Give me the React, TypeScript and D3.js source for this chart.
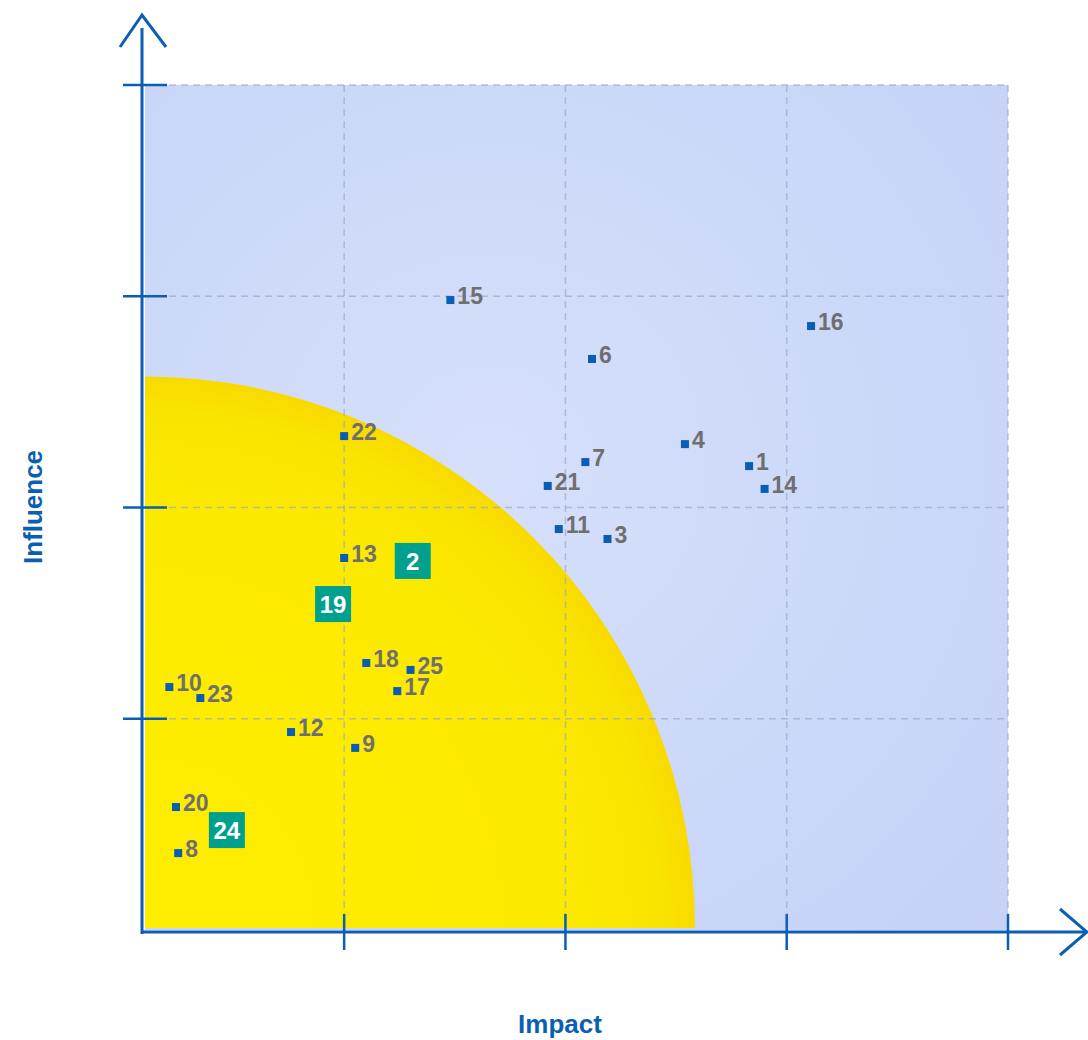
import React from "react";
import * as d3 from "d3";

const ids = [1, 2, 3, 4, 6, 7, 8, 9, 10, 11, 12, 13, 14, 15, 16, 17, 18, 19, 20, 21, 22, 23, 24, 25];
const impact = [2.83, 1.31, 2.19, 2.54, 2.12, 2.09, 0.25, 1.05, 0.21, 1.97, 0.76, 1.0, 2.9, 1.48, 3.11, 1.24, 1.1, 0.95, 0.24, 1.92, 1.0, 0.35, 0.47, 1.3];
const influence = [2.196, 1.747, 1.851, 2.3, 2.703, 2.215, 0.364, 0.862, 1.15, 1.898, 0.937, 1.761, 2.088, 2.982, 2.859, 1.131, 1.264, 1.543, 0.582, 2.102, 2.338, 1.098, 0.473, 1.231];
const highlighted = [2, 19, 24];
const xTicks = [1, 2, 3, 4];
const yTicks = [1, 2, 3, 4];
const zoneImpact = 2.585;
const zoneInfluence = 2.62;

const W = 1088;
const H = 1040;
const BLUE = "#0b5fb3";

export default function App() {
  const x = d3.scaleLinear().domain([0.1, 4]).range([145, 1008]);
  const y = d3.scaleLinear().domain([0, 4]).range([930, 85]);

  const x0 = x(0.1);
  const y0 = y(0.01);
  const rx = x(zoneImpact) - x0;
  const ry = y0 - y(zoneInfluence);
  const zonePath = `M${x0},${y0} L${x0},${y0 - ry} A${rx},${ry} 0 0 1 ${x0 + rx},${y0} Z`;

  const axisX = 142;
  const axisY = 932;

  const points = ids.map((id, i) => ({ id, px: x(impact[i]), py: y(influence[i]), hl: highlighted.includes(id) }));

  return (
    <svg width={W} height={H} style={{ position: "absolute", left: 0, top: 0, background: "#fff" }} fontFamily="'Liberation Sans', Arial, sans-serif">
      <defs>
        <radialGradient id="bg" cx="0.4" cy="0.45" r="0.75">
          <stop offset="0%" stopColor="#d6e0fb" />
          <stop offset="100%" stopColor="#c6d3f7" />
        </radialGradient>
        <radialGradient id="yel" cx={x0} cy={y0} r={rx} gradientUnits="userSpaceOnUse" gradientTransform={`translate(${x0},${y0}) scale(1,${ry / rx}) translate(${-x0},${-y0})`}>
          <stop offset="0%" stopColor="#ffee00" />
          <stop offset="80%" stopColor="#fce900" />
          <stop offset="94%" stopColor="#f9e300" />
          <stop offset="100%" stopColor="#f9da00" />
        </radialGradient>
      </defs>

      <rect x={x(0.1)} y={y(4)} width={x(4) - x(0.1)} height={y(0) - y(4)} fill="url(#bg)" />
      <path d={zonePath} fill="url(#yel)" />

      {/* grid */}
      {xTicks.map((t) => (
        <line key={"gx" + t} x1={x(t)} x2={x(t)} y1={y(4)} y2={y(0)} stroke="#9ea9c4" strokeOpacity={0.7} strokeWidth={1.5} strokeDasharray="7,5" />
      ))}
      {yTicks.map((t) => (
        <line key={"gy" + t} x1={x(0.1)} x2={x(4)} y1={y(t)} y2={y(t)} stroke="#9ea9c4" strokeOpacity={0.7} strokeWidth={1.5} strokeDasharray="7,5" />
      ))}

      {/* axes */}
      <line x1={axisX} x2={axisX} y1={28} y2={axisY + 2} stroke={BLUE} strokeWidth={3} />
      <polyline points={`${axisX - 22},47 ${axisX},15 ${axisX + 24},47`} fill="none" stroke={BLUE} strokeWidth={3} />
      <line x1={axisX} x2={1085} y1={axisY} y2={axisY} stroke={BLUE} strokeWidth={3} />
      <polyline points={`1060,909 1087,${axisY} 1060,955`} fill="none" stroke={BLUE} strokeWidth={3} />
      {yTicks.map((t) => (
        <line key={"ty" + t} x1={123} x2={167} y1={y(t)} y2={y(t)} stroke={BLUE} strokeWidth={2.5} />
      ))}
      {xTicks.map((t) => (
        <line key={"tx" + t} x1={x(t)} x2={x(t)} y1={914} y2={950} stroke={BLUE} strokeWidth={2.5} />
      ))}

      {/* points */}
      {points.map((p) =>
        p.hl ? (
          <g key={p.id}>
            <rect x={p.px - 18} y={p.py - 18} width={36} height={36} fill="#00a08f" />
            <text x={p.px} y={p.py + 9} textAnchor="middle" fill="#fff" fontWeight="bold" fontSize={24}>
              {p.id}
            </text>
          </g>
        ) : (
          <g key={p.id}>
            <rect x={p.px - 4} y={p.py - 4} width={8} height={8} fill="#0a5db4" />
            <text x={p.px + 7} y={p.py + 4} fill="#6f6f6f" fontWeight="bold" fontSize={23}>
              {p.id}
            </text>
          </g>
        )
      )}

      <text x={560} y={1033} textAnchor="middle" fill={BLUE} fontWeight="bold" fontSize={26}>
        Impact
      </text>
      <text transform={`translate(42,507) rotate(-90)`} textAnchor="middle" fill={BLUE} fontWeight="bold" fontSize={26}>
        Influence
      </text>
    </svg>
  );
}
